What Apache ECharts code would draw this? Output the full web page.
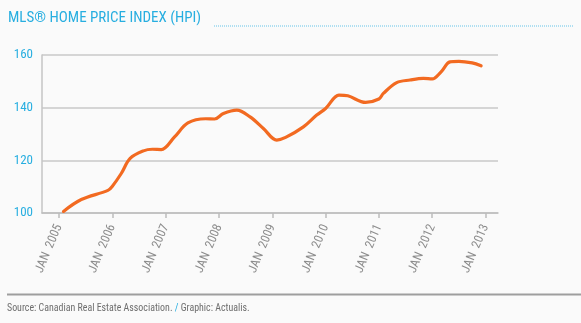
<!DOCTYPE html>
<html>
<head>
<meta charset="utf-8">
<script src="https://cdn.jsdelivr.net/npm/echarts@6/dist/echarts.min.js"></script>
<style>
  html, body { margin: 0; padding: 0; background: #fafafa; }
  #chart { width: 581px; height: 323px; }
</style>
</head>
<body>
<div id="chart"></div>
<script>
// MLS Home Price Index, months counted from January 2005
const months = [1, 5, 11, 12, 14, 16, 19, 21, 23, 26, 29, 33, 35, 37, 40, 43, 46, 49, 51, 55, 58, 60, 63, 65, 69, 72, 73, 76, 79, 82, 84, 86, 88, 90, 93, 95];
const hpi = [100.6, 105.1, 108.6, 110.2, 115.0, 120.7, 123.6, 124.2, 124.1, 128.9, 134.2, 135.8, 135.7, 137.8, 139.1, 136.5, 132.1, 127.7, 128.7, 132.7, 137.2, 139.7, 144.8, 144.5, 142.0, 143.3, 145.4, 149.5, 150.5, 151.1, 150.9, 153.6, 157.4, 157.6, 157.0, 155.9];
const tickYears = [2005, 2006, 2007, 2008, 2009, 2010, 2011, 2012, 2013];
const yTicks = [100, 120, 140, 160];

const FONT = '"Liberation Sans Narrow", "Roboto Condensed", Roboto, sans-serif';
const BLUE = '#27aee0';

const chart = echarts.init(document.getElementById('chart'));
chart.setOption({
  backgroundColor: '#fafafa',
  animation: false,
  grid: { left: 42, right: 83, top: 55, bottom: 110 },
  xAxis: {
    type: 'value',
    min: 2004.68,
    max: 2013.234,
    splitLine: { show: false },
    axisLine: { show: true, lineStyle: { color: '#bdbdbd', width: 1.5 } },
    axisTick: { show: true, customValues: tickYears, length: 5, inside: false, lineStyle: { color: '#bdbdbd', width: 1.5 } },
    axisLabel: {
      customValues: tickYears,
      formatter: v => 'JAN  ' + Math.round(v),
      rotate: 67,
      margin: 12,
      color: '#8c8c8c',
      fontFamily: FONT,
      fontSize: 12.5
    }
  },
  yAxis: {
    type: 'value',
    min: yTicks[0],
    max: yTicks[yTicks.length - 1],
    interval: 20,
    axisLine: { show: true, lineStyle: { color: '#c4c4c4', width: 1.5 } },
    axisTick: { show: false },
    splitLine: { show: true, lineStyle: { color: '#c8c8c8', width: 1.5 } },
    axisLabel: { color: BLUE, fontFamily: FONT, fontSize: 13, margin: 9 }
  },
  series: [{
    type: 'line',
    data: months.map((m, i) => [2005 + m / 12, hpi[i]]),
    smooth: 0.35,
    showSymbol: false,
    lineStyle: { color: '#f26a21', width: 3.2, cap: 'round' }
  }],
  graphic: [
    {
      type: 'text', left: 8, top: 11,
      style: { text: 'MLS® HOME PRICE INDEX (HPI)', fill: BLUE, font: '15px ' + FONT }
    },
    {
      type: 'line', shape: { x1: 214, y1: 26, x2: 573, y2: 26 },
      style: { stroke: BLUE, lineWidth: 1, lineDash: [1, 1], opacity: 0.7 }
    },
    {
      type: 'line', shape: { x1: 7, y1: 294.5, x2: 581, y2: 294.5 },
      style: { stroke: '#9e9e9e', lineWidth: 2 }
    },
    {
      type: 'text', x: 7, y: 303, scaleX: 0.9,
      style: {
        text: '{a|Source: Canadian Real Estate Association. }{b|/}{a| Graphic: Actualis.}',
        rich: {
          a: { fill: '#6e6e6e', font: '11px ' + FONT },
          b: { fill: BLUE, font: '11px ' + FONT }
        }
      }
    }
  ]
});
</script>
</body>
</html>
